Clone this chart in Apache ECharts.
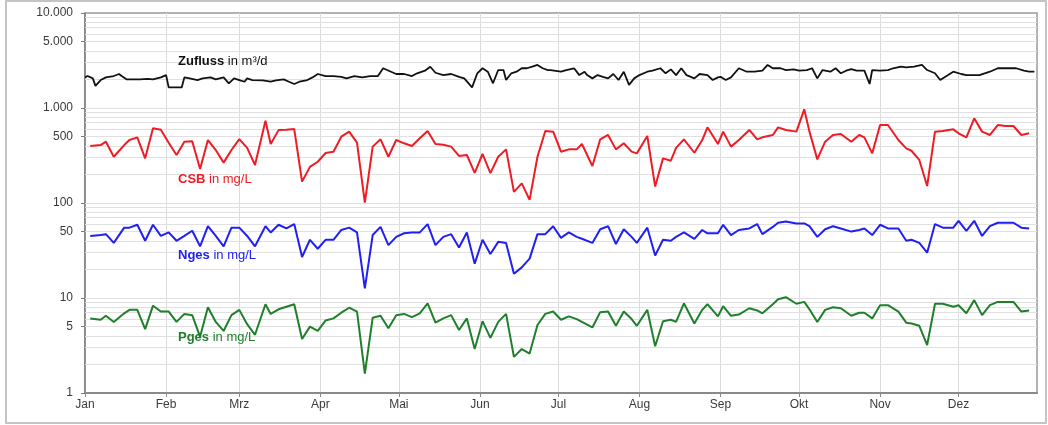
<!DOCTYPE html>
<html>
<head>
<meta charset="utf-8">
<script src="https://cdn.jsdelivr.net/npm/echarts@6/dist/echarts.min.js"></script>
<style>
  html, body { margin: 0; padding: 0; background: #fff; }
  #chart { width: 1048px; height: 425px; }
</style>
</head>
<body>
<div id="chart"></div>
<script>
// Day of year (0 = 1 Jan) at which each month starts, and the month names.
const monthStarts = [0, 31, 59, 90, 120, 151, 181, 212, 243, 273, 304, 334];
const monthNames = ['Jan', 'Feb', 'Mrz', 'Apr', 'Mai', 'Jun', 'Jul', 'Aug', 'Sep', 'Okt', 'Nov', 'Dez'];

// Labelled values of the logarithmic value axis.
const yTicks = [1, 5, 10, 50, 100, 500, 1000, 5000, 10000];

// Daily inflow (m³/d), read on these days of the year.
const zuflussDays = [0,1,3,4,6,8,11,13,14,16,18,21,24,26,29,31,32,34,37,38,40,43,45,48,50,53,55,57,59,61,62,64,68,71,73,76,78,80,82,85,87,89,92,95,98,100,
  103,106,109,112,114,117,119,122,125,127,130,132,134,137,140,143,145,148,150,152,154,156,158,160,161,163,165,167,169,171,173,175,177,178,182,184,187,189,191,192,194,196,198,200,202,204,206,208,210,212,215,217,220,222,224,226,228,230,
  233,235,238,240,242,243,245,247,250,253,256,259,261,263,266,268,271,273,276,278,280,282,285,287,289,291,293,295,298,300,301,304,307,309,312,314,317,320,322,325,327,330,332,335,337,340,342,344,346,349,351,354,356,359,361,363];
const zufluss = [2100,2170,2050,1710,1970,2100,2170,2280,2170,2000,2000,2000,2030,2000,2100,2220,1650,1650,1650,2100,2050,1970,2050,2100,2000,2100,1820,2050,1970,1890,2050,1970,1950,1890,1950,2000,1890,1790,1890,1970,2100,2280,2170,2170,2130,2050,
  2170,2100,2170,2170,2620,2410,2280,2280,2170,2320,2470,2720,2350,2220,2280,2130,2050,1650,2320,2620,2410,1820,2510,2510,1970,2320,2410,2620,2620,2720,2840,2620,2510,2510,2410,2510,2620,2220,2410,2220,2050,2220,2130,2050,2280,1970,2410,1750,2050,2220,2410,2470,2620,2320,2550,2220,2620,2220,
  2050,2280,2220,1970,2100,2130,1970,2100,2620,2410,2410,2470,2840,2620,2620,2510,2550,2470,2510,2620,2050,2510,2410,2620,2320,2470,2570,2470,2470,1790,2510,2470,2510,2620,2720,2680,2720,2840,2510,2320,1970,2220,2410,2280,2220,2220,2220,2320,2410,2620,2620,2620,2620,2470,2410,2410];

// Laboratory samples: days of the year and concentrations (mg/L).
const sampleDays = [2,6,8,11,15,17,20,23,26,29, 32,35,38,41,44,47,50,53,56,59, 62,65,69,71,74,77,80,83,86,89,
  92,95,98,101,104,107,110,113,116,119, 122,125,128,131,134,137,140,143,146,149, 152,155,158,161,164,167,170,173,176,179,
  182,185,188,190,194,197,200,203,206,209, 211,215,218,221,224,226,229,233,236,238, 242,244,247,250,254,257,259,263,265,268,
  272,275,277,280,283,286,289,293,296,298, 301,304,307,311,314,316,319,322,325,328, 332,334,337,340,343,346,349,352,355,358, 361];
const csb = [398,407,442,307,407,460,491,295,611,590, 430,320,442,447,228,460,361,266,361,470, 380,251,735,418,585,590,600,168,240,272,
  336,347,499,564,432,101,392,468,307,460, 425,398,480,573,418,411,392,313,320,208, 328,206,307,367,131,161,108,307,573,564,
  347,367,367,418,245,468,520,367,425,347, 333,507,149,295,279,380,468,338,460,626, 418,564,392,460,587,468,491,520,626,587,
  564,969,564,288,442,520,532,442,520,491, 333,662,662,460,376,355,284,151,564,573, 596,542,491,778,564,520,662,646,646,520, 542];
const nges = [45,46,47,38,55,55,59,40,59,45, 49,40,45,51,35,57,45,35,55,55, 45,35,57,49,59,54,60,27,41,33,
  41,41,52,55,49,12.6,46,56,36,44, 48,49,49,60,36,44,47,34,49,23, 41,29,39,38,18,21,26,47,47,57,
  43,49,44,42,38,53,57,37,53,44, 38,55,28,41,40,44,49,42,52,48, 48,59,46,52,54,60,47,56,62,64,
  61,61,57,44,53,57,54,50,52,54, 46,59,54,54,40,41,38,30,60,55, 55,65,51,65,45,57,62,62,62,55, 54];
const pges = [6.1,5.9,6.5,5.6,6.9,7.5,7.5,4.7,8.3,7.2, 7.2,5.6,6.8,6.6,3.9,8.0,5.6,4.5,6.6,7.5, 5.3,4.1,8.6,6.8,7.6,8.1,8.6,3.7,5.0,4.5,
  5.8,6.1,7.0,7.9,7.2,1.6,6.2,6.5,4.8,6.6, 6.8,6.3,6.9,8.8,5.5,6.1,6.6,4.6,6.1,2.9, 5.7,3.8,5.6,6.8,2.4,2.9,2.6,5.2,6.8,7.2,
  5.9,6.4,6.0,5.6,4.9,7.1,7.2,5.1,7.2,6.0, 5.1,7.5,3.1,5.7,5.9,5.6,8.8,5.4,7.5,8.6, 6.4,8.2,6.5,6.7,7.8,7.4,6.9,8.6,9.7,10.2,
  8.7,9.1,7.6,5.6,7.5,8.0,7.8,6.5,7.0,7.0, 6.1,8.4,8.4,7.2,5.5,5.4,5.1,3.2,8.7,8.7, 8.1,8.4,6.9,9.5,6.6,8.4,9.1,9.1,9.1,7.2, 7.4];

const FONT = 'Arial, "Liberation Sans", sans-serif';

// German thousands separator: 10000 -> "10.000"
function fmtDe(v) {
  return String(Math.round(v)).replace(/\B(?=(\d{3})+(?!\d))/g, '.');
}

// Horizontal log grid lines at 2..9 of every decade plus the decade lines.
const gridValues = [];
[1, 10, 100, 1000].forEach(function (dec) {
  for (let k = 2; k <= 10; k++) {
    const v = k * dec;
    if (v < 10000) gridValues.push(v);
  }
});

function pairs(days, vals) {
  return days.map(function (d, i) { return [d, vals[i]]; });
}

function lineSeries(name, color, width, data) {
  return {
    name: name,
    type: 'line',
    data: data,
    showSymbol: false,
    symbol: 'none',
    smooth: false,
    lineStyle: { color: color, width: width },
    itemStyle: { color: color },
    animation: false,
    z: 10
  };
}

const chart = echarts.init(document.getElementById('chart'), null, { renderer: 'canvas' });

chart.setOption({
  backgroundColor: '#ffffff',
  animation: false,
  textStyle: { fontFamily: FONT },
  grid: {
    left: 85, right: 11, top: 13, bottom: 32,
    show: true, borderColor: '#9a9a9a', borderWidth: 1.5, backgroundColor: 'transparent'
  },
  xAxis: {
    type: 'value',
    min: 0, max: 364,
    axisLine: { show: true, onZero: false, lineStyle: { color: '#8a8a8a', width: 2 } },
    axisTick: { show: true, customValues: monthStarts, length: 4, lineStyle: { color: '#8a8a8a', width: 1 } },
    axisLabel: {
      customValues: monthStarts,
      formatter: function (v) { return monthNames[monthStarts.indexOf(v)] || ''; },
      color: '#3a3a3a', fontSize: 12, fontFamily: FONT, margin: 6
    },
    splitLine: { show: true, lineStyle: { color: '#dcdcdc', width: 1 } }
  },
  yAxis: {
    type: 'log',
    logBase: 10,
    min: 1, max: 10000,
    axisLine: { show: true, lineStyle: { color: '#7a7a7a', width: 1.5 } },
    axisTick: { show: true, customValues: yTicks, length: 4, lineStyle: { color: '#7a7a7a', width: 1 } },
    axisLabel: {
      customValues: yTicks,
      formatter: fmtDe,
      color: '#3a3a3a', fontSize: 12, fontFamily: FONT, margin: 12
    },
    splitLine: { show: false }
  },
  series: [
    {
      name: 'grid',
      type: 'line',
      data: [],
      silent: true,
      z: 1,
      markLine: {
        z: 1,
        silent: true,
        symbol: ['none', 'none'],
        animation: false,
        label: { show: false },
        lineStyle: { color: '#e0e0e0', width: 1, type: 'solid' },
        emphasis: { disabled: true },
        data: gridValues.map(function (v) { return { yAxis: v }; })
      }
    },
    lineSeries('Zufluss', '#111111', 1.8, pairs(zuflussDays, zufluss)),
    lineSeries('CSB', '#ee1c25', 2, pairs(sampleDays, csb)),
    lineSeries('Nges', '#2020f0', 2, pairs(sampleDays, nges)),
    lineSeries('Pges', '#1f7f2a', 2, pairs(sampleDays, pges))
  ],
  graphic: [
    {
      type: 'rect', silent: true, z: 0,
      shape: { x: 6, y: 1, width: 1040, height: 422 },
      style: { fill: 'none', stroke: '#c4c4c4', lineWidth: 2 }
    },
    {
      type: 'text', left: 178, top: 55, silent: true, z: 20,
      style: { text: '{b|Zufluss} in m³/d', fill: '#111', font: '13px ' + FONT,
        rich: { b: { fontWeight: 'bold', fontSize: 13, fontFamily: FONT, fill: '#111' } } }
    },
    {
      type: 'text', left: 178, top: 173, silent: true, z: 20,
      style: { text: '{b|CSB} in mg/L', fill: '#ee1c25', font: '13px ' + FONT,
        rich: { b: { fontWeight: 'bold', fontSize: 13, fontFamily: FONT, fill: '#ee1c25' } } }
    },
    {
      type: 'text', left: 178, top: 249, silent: true, z: 20,
      style: { text: '{b|Nges} in mg/L', fill: '#2020f0', font: '13px ' + FONT,
        rich: { b: { fontWeight: 'bold', fontSize: 13, fontFamily: FONT, fill: '#2020f0' } } }
    },
    {
      type: 'text', left: 178, top: 331, silent: true, z: 20,
      style: { text: '{b|Pges} in mg/L', fill: '#1f7f2a', font: '13px ' + FONT,
        rich: { b: { fontWeight: 'bold', fontSize: 13, fontFamily: FONT, fill: '#1f7f2a' } } }
    }
  ]
});
</script>
</body>
</html>
